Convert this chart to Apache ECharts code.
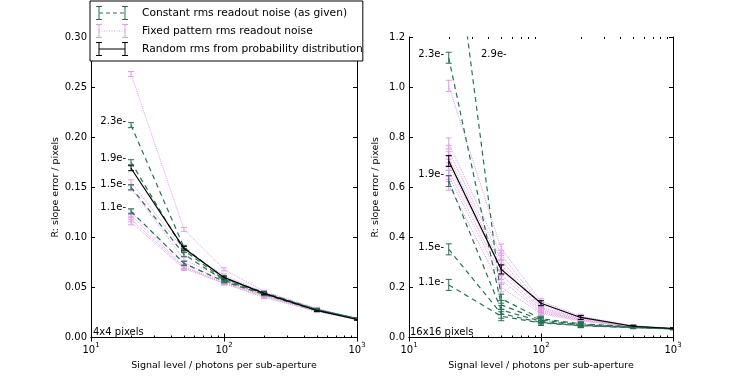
<!DOCTYPE html>
<html>
<head>
<meta charset="utf-8">
<script src="https://cdn.jsdelivr.net/npm/echarts@6/dist/echarts.min.js"></script>
<style>
  html, body { margin: 0; padding: 0; background: #fff; }
  #main { width: 747px; height: 376px; }
</style>
</head>
<body>
<div id="main"></div>
<script>
(function() {

	// signal levels (photons per sub-aperture)
	var signal = [20, 50, 100, 200, 500, 1000];
	var minorTicks = [20, 30, 40, 50, 60, 70, 80, 90, 200, 300, 400, 500, 600, 700, 800, 900];

	// 4x4 pixels panel
	var leftConstant = [
		[0.212, 0.090, 0.059, 0.045, 0.028, 0.019],
		[0.175, 0.087, 0.058, 0.044, 0.028, 0.019],
		[0.150, 0.083, 0.057, 0.044, 0.027, 0.019],
		[0.126, 0.074, 0.056, 0.043, 0.027, 0.019]
	];
	var leftFixed = [
		[0.263, 0.108, 0.068, 0.046, 0.029, 0.019],
		[0.155, 0.087, 0.062, 0.045, 0.028, 0.019],
		[0.149, 0.078, 0.058, 0.043, 0.027, 0.018],
		[0.125, 0.075, 0.056, 0.042, 0.027, 0.018],
		[0.122, 0.071, 0.055, 0.042, 0.026, 0.018],
		[0.118, 0.070, 0.054, 0.041, 0.026, 0.018],
		[0.115, 0.069, 0.054, 0.040, 0.026, 0.018]
	];
	var leftRandom = [0.169, 0.089, 0.060, 0.044, 0.027, 0.018];
	var errLeft = [0.0025, 0.002, 0.0015, 0.0012, 0.001, 0.0008];

	// 16x16 pixels panel
	var rightConstant = [
		[1.78, 0.155, 0.075, 0.055, 0.043, 0.036],
		[1.117, 0.130, 0.070, 0.052, 0.042, 0.035],
		[0.625, 0.110, 0.065, 0.050, 0.041, 0.035],
		[0.352, 0.095, 0.060, 0.048, 0.040, 0.034],
		[0.210, 0.085, 0.058, 0.047, 0.039, 0.034]
	];
	var rightFixed = [
		[1.005, 0.355, 0.145, 0.085, 0.047, 0.037],
		[0.775, 0.330, 0.130, 0.080, 0.046, 0.037],
		[0.745, 0.310, 0.120, 0.078, 0.045, 0.036],
		[0.720, 0.290, 0.115, 0.075, 0.045, 0.036],
		[0.690, 0.270, 0.110, 0.072, 0.044, 0.036],
		[0.665, 0.250, 0.105, 0.070, 0.044, 0.035],
		[0.645, 0.230, 0.100, 0.068, 0.043, 0.035],
		[0.610, 0.200, 0.095, 0.065, 0.043, 0.035]
	];
	var rightRandom = [0.705, 0.272, 0.137, 0.080, 0.045, 0.036];
	var errRight = [0.022, 0.018, 0.01, 0.008, 0.004, 0.003];

	var leftTicks = [0, 0.30, 0.05];
	var rightTicks = [0, 1.2, 0.2];

	var nameConstant = 'Constant rms readout noise (as given)';
	var nameFixed = 'Fixed pattern rms readout noise';
	var nameRandom = 'Random rms from probability distribution';

	var GREEN = '#267352';
	var VIOLET = '#dd9ee6';
	var FONT = 'DejaVu Sans';

	// legend icons: error bar at each end joined by a line
	var barEnds = 'M1,0h6v1h-6z M3.5,0h1v14h-1z M1,13h6v1h-6z M27,0h6v1h-6z M29.5,0h1v14h-1z M27,13h6v1h-6z ';
	function iconPath(dash, gap) {
		var p = barEnds;
		for (var x = 4; x < 30; x += dash + gap) {
			p += 'M' + x + ',6.5h' + Math.min(dash, 30 - x) + 'v1h-' + Math.min(dash, 30 - x) + 'z ';
		}
		return 'path://' + p;
	}

	function pairs(vals) {
		return vals.map(function(v, i) { return [signal[i], v]; });
	}
	function errData(vals, err) {
		return vals.map(function(v, i) { return [signal[i], v, err[i]]; });
	}

	function errorBars(name, vals, err, color, axis) {
		return {
			name: name + ' err',
			type: 'custom',
			xAxisIndex: axis, yAxisIndex: axis,
			clip: true,
			z: 3,
			data: errData(vals, err),
			renderItem: function(params, api) {
				var x = api.value(0), y = api.value(1), e = api.value(2);
				var lo = api.coord([x, y - e]);
				var hi = api.coord([x, y + e]);
				var st = { stroke: color, lineWidth: 1 };
				return {
					type: 'group',
					children: [
						{ type: 'line', shape: { x1: lo[0], y1: lo[1], x2: hi[0], y2: hi[1] }, style: st },
						{ type: 'line', shape: { x1: lo[0] - 3, y1: lo[1], x2: lo[0] + 3, y2: lo[1] }, style: st },
						{ type: 'line', shape: { x1: hi[0] - 3, y1: hi[1], x2: hi[0] + 3, y2: hi[1] }, style: st }
					]
				};
			}
		};
	}

	function lineSeries(name, vals, color, type, width, axis, z) {
		return {
			name: name,
			type: 'line',
			xAxisIndex: axis, yAxisIndex: axis,
			symbol: 'none',
			clip: true,
			z: z,
			data: pairs(vals),
			lineStyle: { color: color, type: type, width: width },
			itemStyle: { color: color }
		};
	}

	function minorSeries(axis) {
		return {
			type: 'custom',
			xAxisIndex: axis, yAxisIndex: axis,
			silent: true,
			z: 1,
			data: minorTicks.map(function(v) { return [v]; }),
			renderItem: function(params, api) {
				var x = api.value(0);
				var y0 = params.coordSys.y + params.coordSys.height;
				var y1 = params.coordSys.y;
				var px = Math.round(api.coord([x, 1])[0]) + 0.5;
				var st = { stroke: '#000', lineWidth: 1 };
				return {
					type: 'group',
					children: [
						{ type: 'line', shape: { x1: px, y1: y0, x2: px, y2: y0 - 2 }, style: st },
						{ type: 'line', shape: { x1: px, y1: y1, x2: px, y2: y1 + 2 }, style: st }
					]
				};
			}
		};
	}

	var series = [];
	[[leftConstant, leftFixed, leftRandom, errLeft, 0], [rightConstant, rightFixed, rightRandom, errRight, 2]].forEach(function(p) {
		var ax = p[4];
		p[1].forEach(function(vals) {
			series.push(lineSeries(nameFixed, vals, VIOLET, 'dotted', 1, ax, 2));
			series.push(errorBars(nameFixed, vals, p[3], VIOLET, ax));
		});
		p[0].forEach(function(vals) {
			series.push(lineSeries(nameConstant, vals, GREEN, [5, 4], 1.2, ax, 4));
			series.push(errorBars(nameConstant, vals, p[3], GREEN, ax));
		});
		series.push(lineSeries(nameRandom, p[2], '#000', 'solid', 1.2, ax, 6));
		series.push(errorBars(nameRandom, p[2], p[3], '#000', ax));
		series.push(minorSeries(ax));
	});

	function logLabel(v) {
		return '{b|10}{s|' + Math.round(Math.log10(v)) + '}';
	}

	function xAxis(grid, top) {
		return {
			type: 'log', logBase: 10, min: 10, max: 1000,
			gridIndex: grid,
			position: top ? 'top' : 'bottom',
			name: top ? '' : 'Signal level / photons per sub-aperture',
			nameLocation: 'middle', nameGap: 16,
			nameTextStyle: { fontFamily: FONT, fontSize: 9.5, color: '#000' },
			axisLine: { lineStyle: { color: '#000', width: 1 } },
			axisTick: { inside: true, length: 4, lineStyle: { color: '#000' } },
			splitLine: { show: false },
			axisLabel: {
				show: !top, margin: 4, formatter: logLabel,
				rich: {
					b: { fontFamily: FONT, fontSize: 10, color: '#000', verticalAlign: 'bottom', lineHeight: 14 },
					s: { fontFamily: FONT, fontSize: 7, color: '#000', verticalAlign: 'top', lineHeight: 14 }
				}
			}
		};
	}

	function yAxis(grid, right, ticks, digits) {
		return {
			type: 'value', min: ticks[0], max: ticks[1], interval: ticks[2],
			gridIndex: grid,
			position: right ? 'right' : 'left',
			name: right ? '' : 'R: slope error / pixels',
			nameLocation: 'middle', nameGap: 28, nameRotate: 90,
			nameTextStyle: { fontFamily: FONT, fontSize: 9.5, color: '#000' },
			axisLine: { show: true, lineStyle: { color: '#000', width: 1 } },
			axisTick: { show: true, inside: true, length: 4, lineStyle: { color: '#000' } },
			splitLine: { show: false },
			axisLabel: {
				show: !right, margin: 4,
				fontFamily: FONT, fontSize: 10, color: '#000',
				formatter: function(v) { return v.toFixed(digits); }
			}
		};
	}

	function note(text, x, y, align) {
		return {
			type: 'text', x: x, y: y, z: 10,
			style: { text: text, fontFamily: FONT, fontSize: 10, fill: '#000', align: align || 'right', verticalAlign: 'middle' }
		};
	}

	var option = {
		backgroundColor: '#fff',
		animation: false,
		grid: [
			{ left: 91, top: 37, width: 266, height: 300.5 },
			{ left: 409, top: 37, width: 264, height: 300.5 }
		],
		xAxis: [xAxis(0, false), xAxis(0, true), xAxis(1, false), xAxis(1, true)],
		yAxis: [
			yAxis(0, false, leftTicks, 2), yAxis(0, true, leftTicks, 2),
			yAxis(1, false, rightTicks, 1), yAxis(1, true, rightTicks, 1)
		],
		legend: {
			data: [
				{ name: nameConstant, icon: iconPath(4, 3) },
				{ name: nameFixed, icon: iconPath(1, 1.5) },
				{ name: nameRandom, icon: iconPath(26, 0) }
			],
			orient: 'vertical',
			left: 90, top: 1,
			padding: [5, 0, 5, 6],
			itemGap: 4,
			itemWidth: 34, itemHeight: 14,
			itemStyle: { borderWidth: 0 },
			backgroundColor: '#fff',
			borderColor: '#000', borderWidth: 1,
			textStyle: { fontFamily: FONT, fontSize: 10.7, color: '#000', padding: [0, 0, 0, 8], lineHeight: 14 },
			z: 20
		},
		graphic: [
			note('2.3e-', 126, 121),
			note('1.9e-', 126, 158),
			note('1.5e-', 126, 184),
			note('1.1e-', 126, 207),
			note('4x4 pixels', 93, 332, 'left'),
			note('2.3e-', 444, 54),
			note('2.9e-', 481, 54, 'left'),
			note('1.9e-', 444, 174),
			note('1.5e-', 444, 247),
			note('1.1e-', 444, 282),
			note('16x16 pixels', 410, 332, 'left')
		],
		series: series
	};

	var myChart = echarts.init(document.getElementById('main'));
	myChart.setOption(option);

})();
</script>
</body>
</html>
